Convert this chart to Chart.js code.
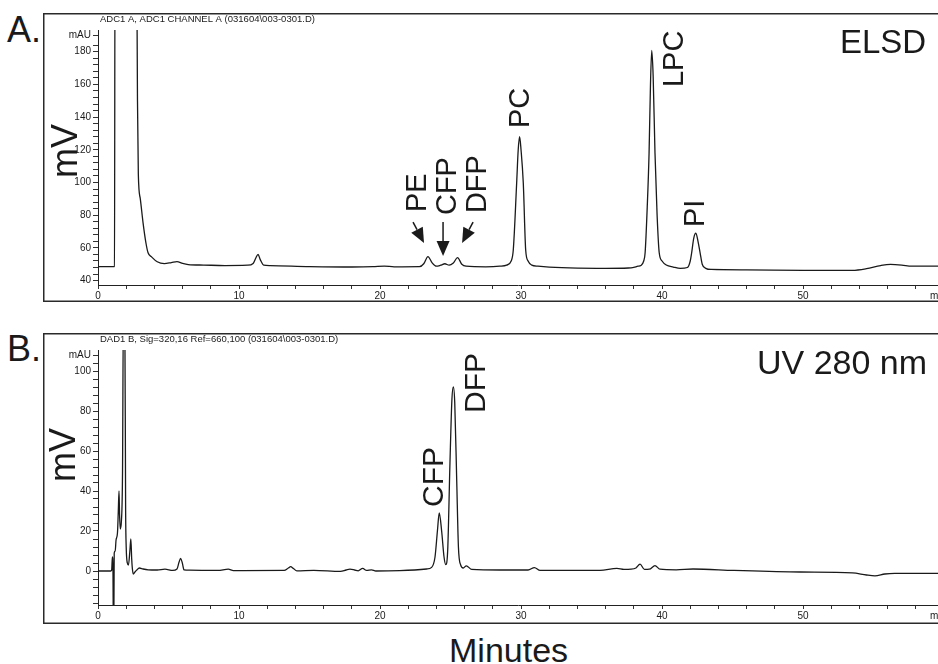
<!DOCTYPE html>
<html>
<head>
<meta charset="utf-8">
<script src="https://cdn.jsdelivr.net/npm/chart.js@4.4.1/dist/chart.umd.min.js"></script>
<style>
  body { margin: 0; background: #fff; width: 938px; height: 664px; overflow: hidden; position: relative;
         font-family: "Liberation Sans", Arial, sans-serif; color: #1a1a1a; }
  canvas { position: absolute; }
  .big { position: absolute; line-height: 1; white-space: nowrap; }
  .rot { position: absolute; line-height: 1; white-space: nowrap; transform: translate(-50%, -50%) rotate(-90deg); }
</style>
</head>
<body>
<canvas id="chartA" width="895" height="289" style="left:43px;top:13px"></canvas>
<canvas id="chartB" width="895" height="291" style="left:43px;top:333px"></canvas>

<div class="big" style="left:7px;top:12px;font-size:36px">A.</div>
<div class="big" style="left:7px;top:331px;font-size:36px">B.</div>
<div class="big" style="left:840px;top:25px;font-size:33px">ELSD</div>
<div class="big" style="left:757px;top:345px;font-size:34px">UV 280 nm</div>
<div class="big" style="left:449px;top:633px;font-size:34px">Minutes</div>
<div class="rot" style="left:65px;top:151px;font-size:36px">mV</div>
<div class="rot" style="left:63px;top:455px;font-size:36px">mV</div>

<script>
// ---- data: panel A (ELSD) ----
var titleA = 'ADC1 A, ADC1 CHANNEL A (031604\\003-0301.D)';
var timesA = [0, 1.1, 1.17, 1.21, 2.6, 2.74, 2.8, 2.86, 3.0, 3.2, 3.4, 3.55, 3.8, 4.2, 4.7, 5.2, 5.6, 6.0, 6.4, 7.5,
  9, 10.6, 11.0, 11.2, 11.35, 11.5, 11.75, 12.2, 15, 18, 19.5, 20.3, 21, 22.8, 23.1, 23.4, 23.7, 24.0, 24.3, 24.6,
  24.9, 25.2, 25.5, 25.8, 26.1, 27.5, 28.5, 28.98, 29.3, 29.45, 29.69, 29.8, 29.9, 30.0, 30.16, 30.33, 30.5, 30.76,
  31.2, 32, 34, 36, 37.6, 38.0, 38.3, 38.5, 38.7, 38.8, 38.95, 39.08, 39.18, 39.27, 39.37, 39.5, 39.65, 39.8, 40.0,
  40.3, 40.8, 41.3, 41.8, 42.0, 42.1, 42.25, 42.4, 42.55, 42.7, 42.85, 43.1, 43.5, 46, 50, 53.5, 54.5, 55.5, 56.2,
  57, 57.7, 59.6];
var valuesA = [48.5, 48.5, 48.6, 260, 260, 240, 150, 105, 90, 75, 63, 57, 54.5, 51.5, 50.4, 51, 51.6, 50.5, 49.8, 49.5,
  49.2, 49.4, 50.5, 54, 56, 53, 49.5, 49.2, 48.6, 48.3, 48.5, 48.9, 48.4, 48.5, 50.3, 54.7, 50.8, 48.8, 49.4, 50.3,
  49.4, 50.8, 54, 50, 48.8, 48.4, 48.8, 49.5, 52, 58.7, 99.7, 120, 128, 120, 99.7, 58.7, 52, 49.5,
  48.8, 48.2, 47.6, 47.5, 47.7, 48.1, 48.8, 49.2, 52, 57, 85, 118, 160, 180.8, 165, 118, 80, 57, 52,
  49.5, 48.3, 47.5, 48, 52, 57, 66, 69, 64, 57, 50, 47.5, 46.8, 46.6, 46.3, 46.3, 47.3, 49.2, 49.9,
  49.5, 48.8, 48.8];
var peaksA = ['PE', 'CFP', 'DFP', 'PC', 'LPC', 'PI'];
var peakTimesA = [22.55, 24.68, 26.81, 29.86, 40.78, 42.27];
var peakLevelsA = [81.9, 80.1, 81.3, 133.3, 158.4, 72.8];
// arrows pointing at PE, CFP, DFP: [t0, v0, t1, v1]
var arrowsA = [[22.34, 75.8, 23.12, 63.0], [24.47, 75.8, 24.47, 55.0], [26.6, 75.8, 25.82, 63.0]];
var yTickLabelsA = [40, 60, 80, 100, 120, 140, 160, 180];

// ---- data: panel B (UV 280 nm) ----
var titleB = 'DAD1 B, Sig=320,16 Ref=660,100 (031604\\003-0301.D)';
var timesB = [0, 0.9, 0.97, 1.02, 1.06, 1.09, 1.12, 1.15, 1.22, 1.28, 1.38, 1.44, 1.49, 1.53, 1.58, 1.66, 1.74, 1.8,
  1.9, 1.96, 2.0, 2.08, 2.16, 2.26, 2.33, 2.39, 2.44, 2.5, 2.62, 2.75, 2.93, 3.2, 3.55, 4.2, 4.75, 5.3, 5.6, 5.75,
  5.86, 5.98, 6.1, 6.5, 8.5, 9.24, 9.6, 13.2, 13.5, 13.66, 13.85, 14.1, 15.3, 17.2, 17.6, 17.87, 18.2, 18.45, 18.77,
  19.05, 19.4, 19.7, 21.4, 23.3, 23.66, 23.9, 24.07, 24.2, 24.37, 24.54, 24.66, 24.8, 24.96, 25.1, 25.2, 25.3, 25.44,
  25.56, 25.72, 25.9, 26.12, 26.5, 28.5, 30.5, 30.95, 31.35, 35.6, 36.8, 37.3, 37.8, 38.15, 38.44, 38.75, 39.1, 39.5,
  39.85, 41, 42.2, 45.1, 49.8, 53.5, 54.5, 55.1, 55.8, 56.5, 59.6];
var valuesB = [0, 0, 0.5, 7, 2, -30, -30, 9, 10, 15.5, 19, 30, 40, 28, 21, 25, 50, 130,
  130, 30, 12, 4, 3, 10, 16, 6, 1, -1.5, -0.5, 0.5, 1.5, 1, 0.6, 0.5, 0.9, 0.3, 1, 4.5,
  6.3, 4, 0.6, 0.4, 0.3, 0.9, 0.2, 0.3, 1.5, 2.2, 1.3, 0.1, 0.3, -0.2, 0.5, 0.9, 0.5, 0.1, 1.3,
  0.3, 0.6, 0, 0.2, 1, 1.8, 7, 20, 29, 20, 7, 3.2, 10.5, 54, 86, 92, 84, 45,
  12, 3, 1.5, 2.6, 0.8, 0.5, 0.5, 1.7, 0.3, 0.3, 1.3, 0.8, 0.9, 1.5, 3.4, 0.8, 0.9, 2.7,
  0.9, 0.6, 1, 0.3, -0.5, -0.9, -2, -2.4, -1.5, -1.2, -1.2];
var peaksB = ['CFP', 'DFP'];
var peakTimesB = [23.69, 26.67];
var peakLevelsB = [32, 79];
var yTickLabelsB = [0, 20, 40, 60, 80, 100];

var xTickLabels = [0, 10, 20, 30, 40, 50];

var FONT = '"Liberation Sans", Arial, sans-serif';
var INK = '#1a1a1a';

function toPoints(ts, vs) {
  return ts.map(function (t, i) { return { x: t, y: vs[i] }; });
}

// frame, header line, peak names and arrows
function decor(title, names, nameT, nameV, nameSize, arrows) {
  return {
    id: 'decor',
    beforeDraw: function (chart) {
      var c = chart.ctx;
      c.save();
      c.strokeStyle = '#2a2a2a';
      c.lineWidth = 1.5;
      c.beginPath();
      c.moveTo(chart.width + 5, 0.75);
      c.lineTo(0.75, 0.75);
      c.lineTo(0.75, chart.height - 0.75);
      c.lineTo(chart.width + 5, chart.height - 0.75);
      c.stroke();
      c.fillStyle = INK;
      c.font = '9.5px ' + FONT;
      c.textBaseline = 'alphabetic';
      c.fillText(title, 57, 8.5);
      // cut-off axis unit at the right end
      var xs = chart.scales.x;
      c.font = '10px ' + FONT;
      c.textBaseline = 'top';
      c.fillText('min', 887, xs.top + 6);
      c.restore();
    },
    afterDatasetsDraw: function (chart) {
      var c = chart.ctx, xs = chart.scales.x, ys = chart.scales.y;
      c.save();
      c.fillStyle = INK;
      c.strokeStyle = INK;
      c.font = nameSize + 'px ' + FONT;
      var capH = nameSize * 0.716;
      names.forEach(function (lab, i) {
        c.save();
        c.translate(xs.getPixelForValue(nameT[i]), ys.getPixelForValue(nameV[i]));
        c.rotate(-Math.PI / 2);
        c.textAlign = 'left';
        c.textBaseline = 'alphabetic';
        c.fillText(lab, 0, capH / 2);
        c.restore();
      });
      (arrows || []).forEach(function (a) {
        var x0 = xs.getPixelForValue(a[0]), y0 = ys.getPixelForValue(a[1]);
        var x1 = xs.getPixelForValue(a[2]), y1 = ys.getPixelForValue(a[3]);
        var ang = Math.atan2(y1 - y0, x1 - x0), len = 15, half = 6.5;
        var bx = x1 - len * Math.cos(ang), by = y1 - len * Math.sin(ang);
        c.lineWidth = 1.5;
        c.beginPath();
        c.moveTo(x0, y0);
        c.lineTo(bx, by);
        c.stroke();
        c.beginPath();
        c.moveTo(x1, y1);
        c.lineTo(bx - half * Math.sin(ang), by + half * Math.cos(ang));
        c.lineTo(bx + half * Math.sin(ang), by - half * Math.cos(ang));
        c.closePath();
        c.fill();
      });
      c.restore();
    }
  };
}

function makeChart(id, pts, yMin, yMax, mauAt, yLabels, xAxisH, padTop, plugin) {
  var yTicks = [];
  for (var v = Math.ceil(yMin / 4) * 4; v < mauAt - 3; v += 4) yTicks.push(v);
  yTicks.push(mauAt);
  var xTicks = [];
  for (var t = 0; t <= 58; t += 2) xTicks.push(t);

  return new Chart(document.getElementById(id), {
    type: 'line',
    data: {
      datasets: [{
        data: pts,
        borderColor: INK,
        borderWidth: 1.3,
        pointRadius: 0,
        cubicInterpolationMode: 'monotone',
        fill: false
      }]
    },
    options: {
      responsive: false,
      animation: false,
      events: [],
      layout: { padding: { top: padTop, left: 0, right: 0, bottom: 0 } },
      plugins: { legend: { display: false }, tooltip: { enabled: false } },
      scales: {
        x: {
          type: 'linear', min: 0, max: 59.57,
          afterFit: function (s) { s.height = xAxisH; },
          afterBuildTicks: function (s) { s.ticks = xTicks.map(function (v) { return { value: v }; }); },
          grid: { drawOnChartArea: false, tickLength: 4, color: '#333' },
          border: { color: '#222', width: 1 },
          ticks: {
            autoSkip: false, maxRotation: 0, padding: 1, color: INK, font: { size: 10, family: FONT },
            callback: function (v) { return xTickLabels.indexOf(v) >= 0 ? String(v) : ''; }
          }
        },
        y: {
          min: yMin, max: yMax,
          afterFit: function (s) { s.width = 55; },
          afterBuildTicks: function (s) { s.ticks = yTicks.map(function (v) { return { value: v }; }); },
          grid: { drawOnChartArea: false, tickLength: 5, color: '#333' },
          border: { color: '#222', width: 1 },
          ticks: {
            autoSkip: false, padding: 2, color: INK, font: { size: 10, family: FONT },
            callback: function (v) {
              if (v === mauAt) return 'mAU';
              return yLabels.indexOf(v) >= 0 ? String(v) : '';
            }
          }
        }
      }
    },
    plugins: [plugin]
  });
}

makeChart('chartA', toPoints(timesA, valuesA), 37.3, 193.3, 190, yTickLabelsA, 17, 17,
  decor(titleA, peaksA, peakTimesA, peakLevelsA, 29, arrowsA));
makeChart('chartB', toPoints(timesB, valuesB), -17, 110.5, 108, yTickLabelsB, 19, 17,
  decor(titleB, peaksB, peakTimesB, peakLevelsB, 30, null));
</script>
</body>
</html>
